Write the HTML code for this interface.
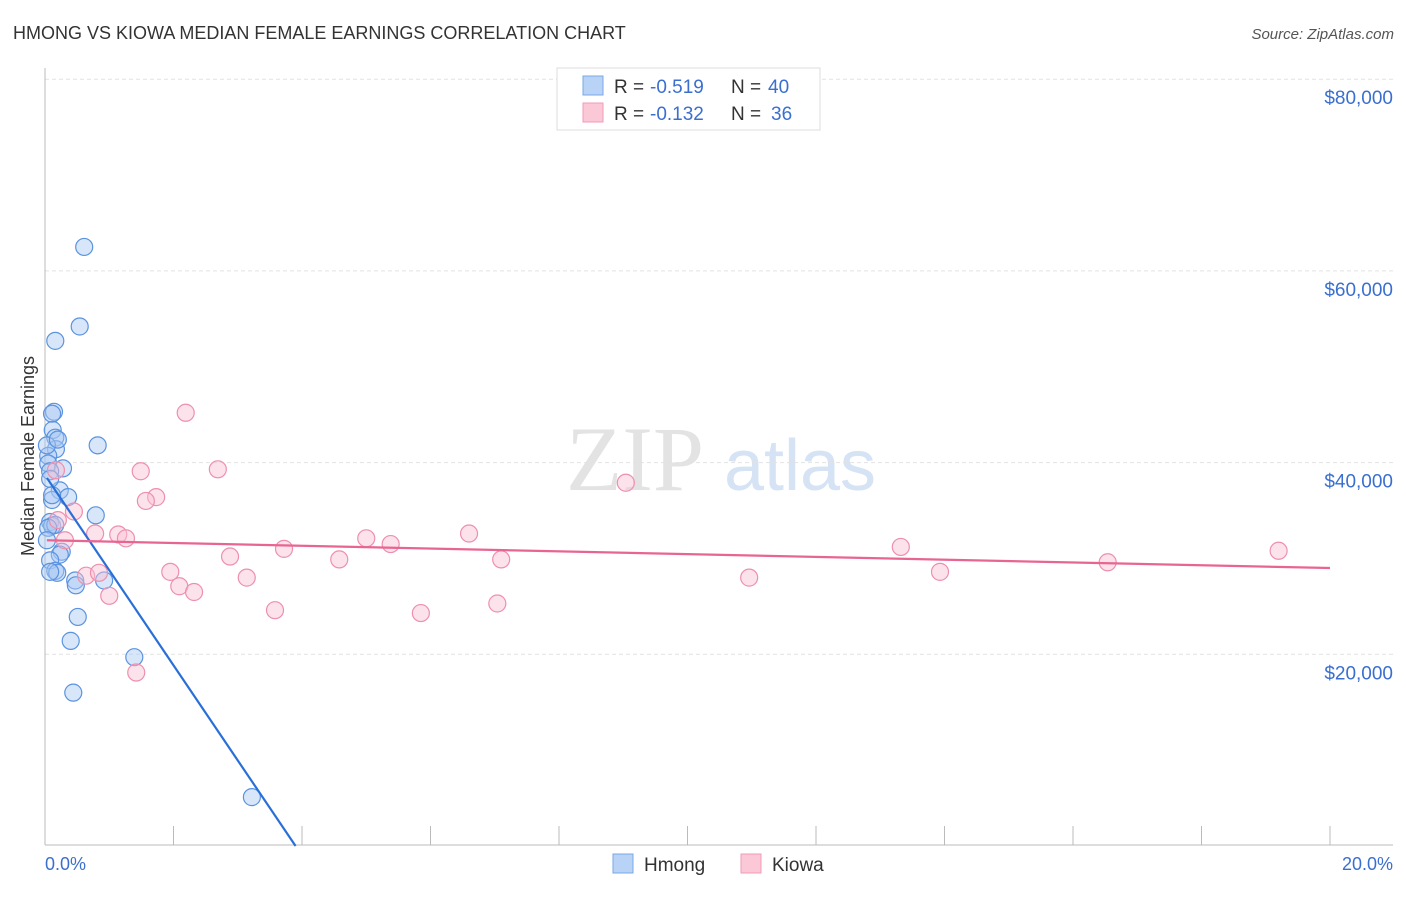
<!DOCTYPE html>
<html><head><meta charset="utf-8"><style>
body{margin:0;background:#fff;font-family:"Liberation Sans",sans-serif}
</style></head><body>
<svg id="chart" width="1406" height="892" xmlns="http://www.w3.org/2000/svg" font-family="Liberation Sans, sans-serif">
<text x="13" y="39" font-size="18" fill="#333">HMONG VS KIOWA MEDIAN FEMALE EARNINGS CORRELATION CHART</text>
<text x="1394" y="39" font-size="15" fill="#555" text-anchor="end" font-style="italic">Source: ZipAtlas.com</text>
<g>
<text x="635" y="490" font-size="92" fill="#e3e3e3" text-anchor="middle" font-family="Liberation Serif, serif">ZIP</text>
<text x="800" y="490" font-size="72" fill="#d5e3f5" text-anchor="middle">atlas</text>
</g>
<g id="grid"></g>
<line x1="45" y1="68" x2="45" y2="845" stroke="#bbb"/>
<line x1="45" y1="845" x2="1393" y2="845" stroke="#bbb"/>
<g id="xticks"></g>
<text transform="translate(34,456) rotate(-90)" font-size="18" fill="#333" text-anchor="middle">Median Female Earnings</text>
<text x="45" y="870" font-size="18" fill="#3a6fd0">0.0%</text>
<text x="1393" y="870" font-size="18" fill="#3a6fd0" text-anchor="end">20.0%</text>
<g id="points"></g>
<g id="trends"></g>
<g>
<rect x="557" y="68" width="263" height="62" fill="#fff" stroke="#ddd"/>
<rect x="583" y="76" width="20" height="19" fill="#b8d3f5" stroke="#7aa7e6"/>
<rect x="583" y="103" width="20" height="19" fill="#fbc8d7" stroke="#f09ab4"/>
<text x="614" y="93" font-size="19" fill="#333">R =</text>
<text x="650" y="93" font-size="19" fill="#3a6fd0">-0.519</text>
<text x="731" y="93" font-size="19" fill="#333">N =</text>
<text x="768" y="93" font-size="19" fill="#3a6fd0">40</text>
<text x="614" y="120" font-size="19" fill="#333">R =</text>
<text x="650" y="120" font-size="19" fill="#3a6fd0">-0.132</text>
<text x="731" y="120" font-size="19" fill="#333">N =</text>
<text x="771" y="120" font-size="19" fill="#3a6fd0">36</text>
</g>
<g>
<rect x="613" y="854" width="20" height="19" fill="#b8d3f5" stroke="#7aa7e6"/>
<text x="644" y="871" font-size="19" fill="#333">Hmong</text>
<rect x="741" y="854" width="20" height="19" fill="#fbc8d7" stroke="#f09ab4"/>
<text x="772" y="871" font-size="19" fill="#333">Kiowa</text>
</g>
</svg>
<script>
const yTicks=[20000,40000,60000,80000];
const yTickLabels=["$20,000","$40,000","$60,000","$80,000"];
const xTicks=[0,2,4,6,8,10,12,14,16,18,20];
const hmongX=[0.61,0.54,0.16,0.14,0.11,0.12,0.16,0.17,0.82,0.05,0.05,0.28,0.08,0.23,0.36,0.11,0.79,0.08,0.11,0.16,0.26,0.23,0.08,0.16,0.19,0.47,0.92,0.48,0.51,0.40,1.39,0.44,3.22,0.05,0.03,0.08,0.03,0.08,0.11,0.2];
const hmongY=[62.5,54.2,52.7,45.3,45.1,43.4,42.6,41.4,41.8,40.7,39.9,39.4,39.1,37.1,36.4,36.1,34.5,33.8,33.4,33.5,30.7,30.4,29.8,28.7,28.5,27.7,27.7,27.2,23.9,21.4,19.7,16.0,5.1,33.2,31.9,38.3,41.8,28.6,36.6,42.4];
const kiowaX=[2.19,1.49,2.69,1.73,1.57,9.04,0.17,0.45,0.2,0.31,0.78,1.14,1.26,5.0,5.38,6.6,3.72,2.88,4.58,7.1,13.32,19.2,16.54,13.93,1.95,0.64,0.84,3.14,10.96,2.09,2.32,1.0,3.58,7.04,5.85,1.42];
const kiowaY=[45.2,39.1,39.3,36.4,36.0,37.9,39.2,34.9,34.0,31.9,32.6,32.5,32.1,32.1,31.5,32.6,31.0,30.2,29.9,29.9,31.2,30.8,29.6,28.6,28.6,28.2,28.5,28.0,28.0,27.1,26.5,26.1,24.6,25.3,24.3,18.1];
const hmongTrend=[[0.03,38.4],[3.9,0]];
const kiowaTrend=[[0.03,31.9],[20,29.0]];
const X=v=>45+v*64.25, Y=v=>846-v*0.009585;
const NS="http://www.w3.org/2000/svg";
function mk(t,a,p){const e=document.createElementNS(NS,t);for(const k in a)e.setAttribute(k,a[k]);document.getElementById(p).appendChild(e);return e;}
yTicks.forEach((v,i)=>{
 const l=mk('line',{x1:45,x2:1393,y1:Y(v),y2:Y(v),stroke:'#e2e2e2','stroke-dasharray':'4,3'},'grid');
 
 
 const t=mk('text',{x:1393,y:Y(v)+25,'font-size':19,fill:'#3a6fd0','text-anchor':'end'},'grid');
 t.textContent=yTickLabels[i];
 
 
});
xTicks.forEach(v=>{
 const l=mk('line',{x1:X(v),x2:X(v),y1:826,y2:845,stroke:'#bbb'},'xticks');
 
 
});
function pts(xs,ys,fill,stroke,name){xs.forEach((x,i)=>{
 const c=mk('circle',{cx:X(x),cy:Y(ys[i]*1000),r:8.5,fill:fill,'fill-opacity':0.45,stroke:stroke,'stroke-width':1.2},'points');
 
 
});}
pts(hmongX,hmongY,'#a9c8f2','#5b93e0','hmong-point');
pts(kiowaX,kiowaY,'#f9c0d2','#ee8fae','kiowa-point');
function tl(d,c,name){const l=mk('line',{x1:X(d[0][0]),y1:Y(d[0][1]*1000),x2:X(d[1][0]),y2:Y(d[1][1]*1000),stroke:c,'stroke-width':2.2},'trends');
 
 }
tl(hmongTrend,'#2a6fd8','hmong-trend-line');
tl(kiowaTrend,'#e86592','kiowa-trend-line');
</script>
</body></html>
